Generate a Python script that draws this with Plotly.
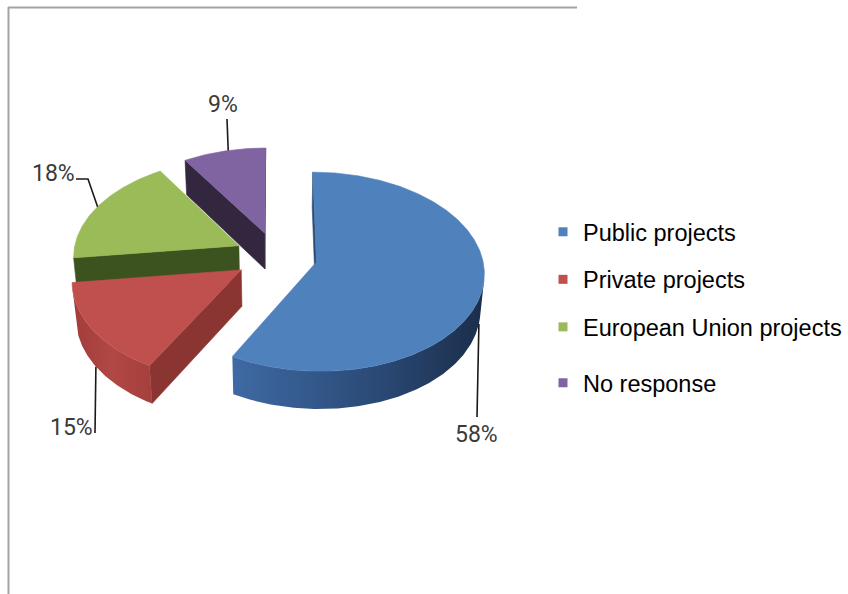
import numpy as np
import plotly.graph_objects as go

# ---- data ----
categories = ["Public projects", "Private projects", "European Union projects", "No response"]
shares = [58, 15, 18, 9]
share_labels = ["58%", "15%", "18%", "9%"]

# ---- styling ----
top_colors = ["#4f81bd", "#c0504d", "#9bbb59", "#8064a2"]
wall_scales = [
    [[0, "#3f6aa4"], [0.55, "#2b4b78"], [1, "#1b2e4a"]],
    [[0, "#a23c3a"], [0.5, "#b14845"], [1, "#a4403d"]],
    [[0, "#4a6426"], [1, "#3c5220"]],
    [[0, "#3a2b48"], [1, "#2e2238"]],
]
cut_colors = ["#2c4a73", "#8b3533", "#3c521f", "#33263f"]

# ---- 3D pie projection ----
ELEV = np.radians(36.0)     # viewing elevation
DIST = 8.44                 # camera distance, in pie radii
DEPTH = 0.275               # slab thickness, in pie radii
EXPLODE = 0.25              # slice pull-out, in pie radii
SCALE = 165.8               # pixels per radius
CX, CY = 276.0, 256.0       # pie centre on the canvas
SE, CE = np.sin(ELEV), np.cos(ELEV)
CAM = np.array([0.0, -DIST * CE, DIST * SE])


def project(X, Y, Z):
    X, Y, Z = np.asarray(X, float), np.asarray(Y, float), np.asarray(Z, float)
    yc = Y * SE + Z * CE
    zc = Y * CE - Z * SE
    s = DIST / (DIST + zc)
    return CX + SCALE * X * s, CY - SCALE * yc * s


total = float(sum(shares))
bounds = np.concatenate([[0.0], np.cumsum(shares) / total * 360.0])

slices = []
for i in range(len(shares)):
    a, b = bounds[i], bounds[i + 1]
    mid = np.radians((a + b) / 2)
    ox, oy = EXPLODE * np.sin(mid), EXPLODE * np.cos(mid)
    slices.append(dict(a=a, b=b, ox=ox, oy=oy, depth=np.cos(mid)))


def rim(i, theta_deg, z):
    s = slices[i]
    t = np.radians(np.asarray(theta_deg, float))
    return project(s["ox"] + np.sin(t), s["oy"] + np.cos(t), np.full_like(t, z))


fig = go.Figure()


def face(x, y, color=None, gradient=None, hover=None):
    kw = dict(x=list(x) + [x[0]], y=list(y) + [y[0]], mode="lines", fill="toself",
              showlegend=False)
    if gradient is not None:
        kw["fillgradient"] = dict(type="horizontal", colorscale=gradient)
        kw["line"] = dict(width=0)
    else:
        kw["fillcolor"] = color
        kw["line"] = dict(color=color, width=0.6)
    if hover:
        kw["hovertext"] = hover
        kw["hoverinfo"] = "text"
        kw["hoveron"] = "fills"
    else:
        kw["hoverinfo"] = "skip"
    fig.add_trace(go.Scatter(**kw))


# far slices first, near slices last
for i in sorted(range(len(slices)), key=lambda k: -slices[k]["depth"]):
    s = slices[i]
    a, b = s["a"], s["b"]
    thetas = np.linspace(a, b, int((b - a) * 2) + 2)
    t = np.radians(thetas)
    apex_top = project(s["ox"], s["oy"], 0.0)
    apex_bot = project(s["ox"], s["oy"], -DEPTH)

    # cut faces
    for ang, sign in ((a, -1.0), (b, 1.0)):
        r = np.radians(ang)
        n = sign * np.array([np.cos(r), -np.sin(r), 0.0])
        mid = np.array([s["ox"] + 0.5 * np.sin(r), s["oy"] + 0.5 * np.cos(r), -DEPTH / 2])
        if n @ (CAM - mid) > 0:
            rt = rim(i, [ang], 0.0)
            rb = rim(i, [ang], -DEPTH)
            xs = [float(apex_top[0]), rt[0][0], rb[0][0], float(apex_bot[0])]
            ys = [float(apex_top[1]), rt[1][0], rb[1][0], float(apex_bot[1])]
            face(xs, ys, color=cut_colors[i])

    # outer wall, only the part facing the camera
    px = s["ox"] + np.sin(t)
    py = s["oy"] + np.cos(t)
    vis = np.sin(t) * (CAM[0] - px) + np.cos(t) * (CAM[1] - py) > 0
    runs, cur = [], []
    for k, v in enumerate(vis):
        if v:
            cur.append(k)
        elif cur:
            runs.append(cur)
            cur = []
    if cur:
        runs.append(cur)
    for run in runs:
        if len(run) < 2:
            continue
        th = thetas[run]
        tx, ty = rim(i, th, 0.0)
        bx, by = rim(i, th, -DEPTH)
        face(list(tx) + list(bx[::-1]), list(ty) + list(by[::-1]), gradient=wall_scales[i])

    # top face
    tx, ty = rim(i, thetas, 0.0)
    face([float(apex_top[0])] + list(tx), [float(apex_top[1])] + list(ty),
         color=top_colors[i], hover=f"{categories[i]}: {share_labels[i]}")

# ---- data labels with leader lines ----
label_pos = [(476, 434), (71, 427), (53, 173), (223, 104)]
# where each leader meets its slice: (fraction along the slice arc, rim level)
leader_hit = [(0.5, -DEPTH), (0.5, -DEPTH), (0.5, 0.0), (0.55, 0.0)]
# leader points on the label side
leader_start = [[(477, 417)], [(95, 433)], [(76, 179), (88, 179)], [(227, 119)]]

for i in range(len(shares)):
    frac, lvl = leader_hit[i]
    ang = slices[i]["a"] + frac * (slices[i]["b"] - slices[i]["a"])
    hx, hy = rim(i, [ang], lvl)
    pts = leader_start[i] + [(hx[0], hy[0])]
    fig.add_trace(go.Scatter(x=[p[0] for p in pts], y=[p[1] for p in pts], mode="lines",
                             line=dict(color="#1a1a1a", width=1.6),
                             hoverinfo="skip", showlegend=False))
    fig.add_annotation(x=label_pos[i][0], y=label_pos[i][1], text=share_labels[i],
                       showarrow=False, xanchor="center", yanchor="middle",
                       font=dict(family="Roboto, Liberation Sans", size=23, color="#3a3a3a"))

# ---- legend entries ----
for i, name in enumerate(categories):
    fig.add_trace(go.Scatter(x=[None], y=[None], mode="markers", name=name,
                             legendgroup=name,
                             legend="legend2" if i == 3 else "legend",
                             marker=dict(symbol="square", size=9, color=top_colors[i]),
                             hoverinfo="skip"))

legend_font = dict(family="Liberation Sans, Arial", size=23.5, color="#000000")
W, H = 848, 594
fig.update_layout(
    width=W, height=H,
    margin=dict(l=0, r=0, t=0, b=0),
    paper_bgcolor="white", plot_bgcolor="white",
    xaxis=dict(range=[0, W], visible=False, fixedrange=True),
    yaxis=dict(range=[H, 0], visible=False, fixedrange=True),
    legend=dict(x=543 / W, y=1 - 210 / H, xanchor="left", yanchor="top",
                font=legend_font, tracegroupgap=14, traceorder="grouped",
                bgcolor="rgba(0,0,0,0)"),
    legend2=dict(x=543 / W, y=1 - 361 / H, xanchor="left", yanchor="top",
                 font=legend_font, bgcolor="rgba(0,0,0,0)"),
    shapes=[
        dict(type="line", xref="x", yref="y", x0=8, y0=7.5, x1=577, y1=7.5,
             line=dict(color="#a3a3a3", width=2)),
        dict(type="line", xref="x", yref="y", x0=8.5, y0=7, x1=8.5, y1=H,
             line=dict(color="#a3a3a3", width=2)),
    ],
    showlegend=True,
)

fig.write_html("out.html")
